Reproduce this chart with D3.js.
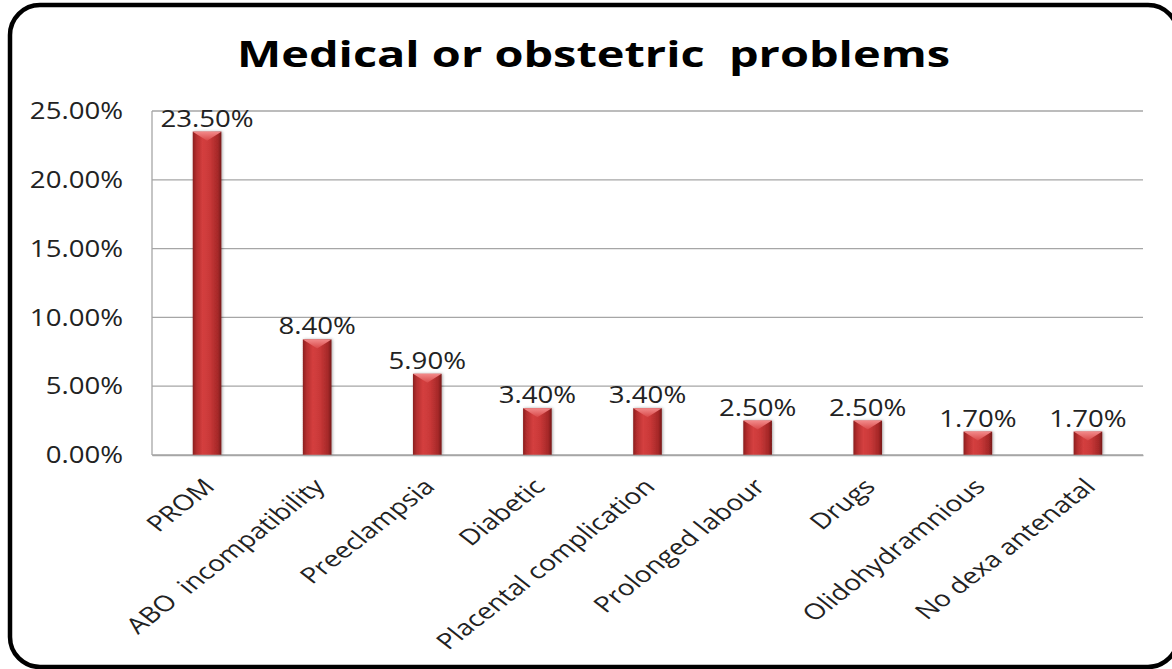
<!DOCTYPE html>
<html>
<head>
<meta charset="utf-8">
<script src="https://cdn.jsdelivr.net/npm/d3@7"></script>
<style>
  html, body { margin: 0; padding: 0; background: #fff; }
  svg { display: block; }
  text { font-family: "Open Sans", "Noto Sans", sans-serif; }
</style>
</head>
<body>
<svg id="chart" width="1172" height="669"></svg>
<script>
// Medical or obstetric problems (share of cases)
const title = "Medical or obstetric  problems";
const categories = ["PROM", "ABO  incompatibility", "Preeclampsia", "Diabetic",
  "Placental complication", "Prolonged labour", "Drugs", "Olidohydramnious", "No dexa antenatal"];
const values = [23.5, 8.4, 5.9, 3.4, 3.4, 2.5, 2.5, 1.7, 1.7];
const yTicks = [0, 5, 10, 15, 20, 25];

const W = 1172, H = 669;
const margin = { top: 111, right: 29, bottom: 214, left: 152 };
const iw = W - margin.left - margin.right;
const ih = H - margin.top - margin.bottom;
const textStretch = 1.2;   // horizontal widening of the horizontal labels
const slantStretch = 1.28; // horizontal widening of the slanted category labels

const svg = d3.select("#chart");

// Gradients for the bevelled bars
const defs = svg.append("defs");
const g1 = defs.append("linearGradient").attr("id", "barGrad")
  .attr("x1", "0").attr("x2", "1").attr("y1", "0").attr("y2", "0");
[["0%", "#8a1e1e"], ["12%", "#b22d2d"], ["35%", "#d43f3f"], ["60%", "#c93838"], ["88%", "#a52828"], ["100%", "#761818"]]
  .forEach(([o, c]) => g1.append("stop").attr("offset", o).attr("stop-color", c));
const g2 = defs.append("linearGradient").attr("id", "capGrad")
  .attr("x1", "0").attr("x2", "0").attr("y1", "0").attr("y2", "1");
[["0%", "#f28a8a"], ["100%", "#d84848"]]
  .forEach(([o, c]) => g2.append("stop").attr("offset", o).attr("stop-color", c));
const sh = defs.append("filter").attr("id", "shadow").attr("x", "-30%").attr("width", "160%");
sh.append("feDropShadow").attr("dx", 1).attr("dy", 0).attr("stdDeviation", 1.5)
  .attr("flood-color", "#000").attr("flood-opacity", 0.35);

// Rounded outer frame
svg.append("rect")
  .attr("x", 10).attr("y", 5).attr("width", 1168).attr("height", 662)
  .attr("rx", 30).attr("ry", 30)
  .attr("fill", "#fff").attr("stroke", "#000").attr("stroke-width", 4.5);

// Title
svg.append("text")
  .attr("x", 237).attr("y", 67)
  .attr("font-size", 36).attr("font-weight", 700)
  .attr("fill", "#000")
  .attr("xml:space", "preserve")
  .attr("textLength", 713).attr("lengthAdjust", "spacingAndGlyphs")
  .text(title);

const g = svg.append("g").attr("transform", `translate(${margin.left},${margin.top})`);

const x = d3.scaleBand().domain(categories).range([0, iw]).paddingInner(0.74).paddingOuter(0.37);
const y = d3.scaleLinear().domain([0, 25]).range([ih, 0]);

// Horizontal gridlines
g.selectAll(".grid").data(yTicks).join("line")
  .attr("x1", 0).attr("x2", iw)
  .attr("y1", d => y(d)).attr("y2", d => y(d))
  .attr("stroke", "#a6a6a6").attr("stroke-width", 1.3);

// Left axis line
g.append("line").attr("x1", 0).attr("x2", 0).attr("y1", 0).attr("y2", ih)
  .attr("stroke", "#a6a6a6").attr("stroke-width", 1.3);

// Y axis labels
g.selectAll(".ylab").data(yTicks).join("text")
  .attr("transform", d => `translate(-29,${y(d)}) scale(${textStretch},1)`)
  .attr("dy", "0.36em")
  .attr("text-anchor", "end")
  .attr("font-size", 23).attr("fill", "#222")
  .text(d => d.toFixed(2) + "%");

// Bars
const bars = g.selectAll(".bar").data(values.map((v, i) => ({ c: categories[i], v }))).join("g");
bars.append("rect")
  .attr("x", d => x(d.c)).attr("y", d => y(d.v))
  .attr("width", x.bandwidth()).attr("height", d => ih - y(d.v))
  .attr("fill", "url(#barGrad)").attr("filter", "url(#shadow)");
// Bevelled top cap
bars.append("path")
  .attr("d", d => {
    const x0 = x(d.c), w = x.bandwidth(), t = y(d.v);
    return `M${x0},${t}L${x0 + w},${t}L${x0 + w / 2},${t + 9}Z`;
  })
  .attr("fill", "url(#capGrad)");

// Value labels
g.selectAll(".val").data(values).join("text")
  .attr("transform", (d, i) =>
    `translate(${x(categories[i]) + x.bandwidth() / 2},${y(d) - 5}) scale(${textStretch},1)`)
  .attr("text-anchor", "middle")
  .attr("font-size", 23).attr("fill", "#222")
  .text(d => d.toFixed(2) + "%");

// Category labels, slanted
const xAxis = d3.axisBottom(x).tickSize(0).tickPadding(0);
g.append("g").attr("transform", `translate(0,${ih})`).call(xAxis)
  .call(s => s.select(".domain").attr("stroke", "#a6a6a6").attr("stroke-width", 1.3))
  .selectAll("text")
  .attr("font-size", 22).attr("fill", "#222")
  .style("font-family", "'Open Sans', sans-serif")
  .attr("xml:space", "preserve")
  .attr("text-anchor", "end")
  .attr("dy", 0)
  .attr("transform", `translate(9,33) scale(${slantStretch},1) rotate(-45)`);
</script>
</body>
</html>
